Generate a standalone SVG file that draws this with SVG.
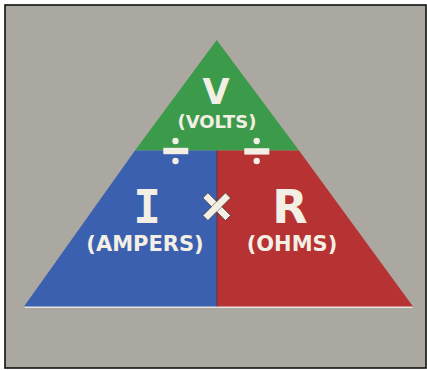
<svg xmlns="http://www.w3.org/2000/svg" width="427" height="370" viewBox="0 0 427 370">
  <style>
    .lbl { font-family: "DejaVu Sans", "Liberation Sans", sans-serif; font-weight: bold; fill: #f3efe4; text-anchor: middle; }
    .big { font-size: 46px; }
    .mid { font-size: 21px; }
    .sym { fill: #f3efe4; }
  </style>
  <!-- backdrop and frame -->
  <rect x="0" y="0" width="427" height="370" fill="#ffffff"/>
  <rect x="5" y="5" width="421" height="363" fill="#aba8a2" stroke="#111" stroke-width="1.6"/>

  <!-- triangle thickness edge -->
  <polygon points="24,306 413,306 412,308 25,308" fill="#e6e4e0"/>

  <g id="volts">
    <polygon points="216.7,40 299,150.5 135,150.5" fill="#3c9a4b"/>
    <text class="lbl" x="216" y="104" style="font-size:35px">V</text>
    <text class="lbl" x="217" y="128" style="font-size:18px">(VOLTS)</text>
  </g>

  <g id="amperes">
    <polygon points="135,150.5 217,150.5 217,306.5 24,306.5" fill="#3b60af"/>
    <text class="lbl big" x="147" y="223" style="font-family:'DejaVu Sans Mono','Liberation Mono',monospace">I</text>
    <text class="lbl mid" x="145" y="251">(AMPERS)</text>
  </g>

  <g id="ohms">
    <polygon points="217,150.5 299,150.5 413,306.5 217,306.5" fill="#b73232"/>
    <text class="lbl big" x="290" y="223">R</text>
    <text class="lbl mid" x="292" y="251">(OHMS)</text>
  </g>

  <!-- operators between the segments -->
  <g id="connectors">
    <line x1="217" y1="150.5" x2="217" y2="306.5" stroke="#6a2a3a" stroke-width="0.8"/>
    <g id="divide-left" class="sym">
      <circle cx="175.5" cy="141" r="3.2"/>
      <rect x="163.3" y="147.8" width="25" height="6.4"/>
      <circle cx="175.5" cy="161" r="3.2"/>
    </g>
    <g id="divide-right" class="sym">
      <circle cx="256.7" cy="141" r="3.2"/>
      <rect x="244.3" y="148.2" width="25" height="6.4"/>
      <circle cx="256.7" cy="161" r="3.2"/>
    </g>
    <g id="times" transform="translate(216.7,206.7) rotate(45)">
      <rect x="-16" y="-3.6" width="32" height="7.2" class="sym" stroke="#2a2a2a" stroke-width="0.6"/>
      <rect x="-3.6" y="-16" width="7.2" height="32" class="sym" stroke="#2a2a2a" stroke-width="0.6"/>
      <rect x="-3.3" y="-3.3" width="6.6" height="6.6" class="sym"/>
    </g>
  </g>
</svg>
